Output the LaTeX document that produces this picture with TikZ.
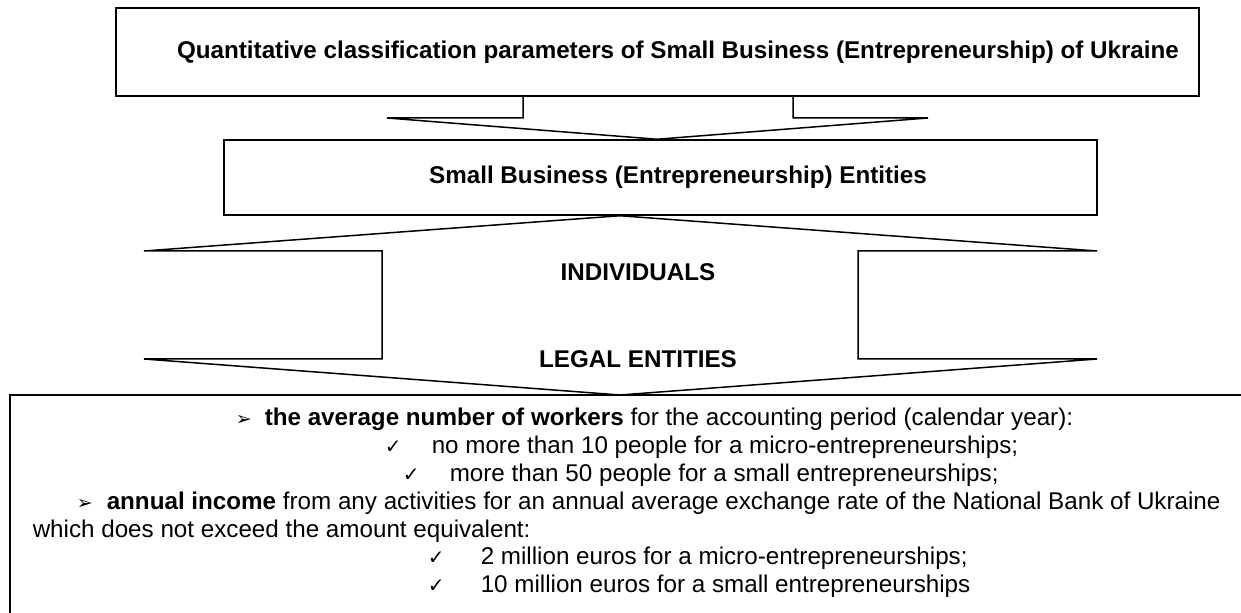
\documentclass[tikz,border=0pt]{standalone}
\usepackage{fontspec}
\setmainfont{Liberation Sans}
\newfontfamily\symbolfont{DejaVu Sans}
\newcommand\diagfont{\fontsize{12.1}{14}\selectfont}
\newcommand\checkitem[1]{\makebox[#1][l]{\symbolfont\fontsize{10}{12}\selectfont ✓}}
\newcommand\arrowitem[1]{\makebox[#1][l]{\symbolfont\fontsize{9.5}{12}\selectfont ➢}}

\begin{document}
\begin{tikzpicture}[x=0.5pt,y=-0.5pt,line width=0.75pt,
    box/.style={draw,inner sep=0pt,font=\diagfont\bfseries},
    heading/.style={inner sep=0pt,font=\diagfont\bfseries},
    bodyline/.style={inner sep=0pt,anchor=base west,font=\diagfont}]
  \useasboundingbox (0,0) rectangle (1241,613);

  \node[box,minimum width=541.5pt,minimum height=44pt] (params) at (657.5,52)
    {\hspace*{20.5pt}Quantitative classification parameters of Small Business (Entrepreneurship) of Ukraine};
  \node[box,minimum width=436.5pt,minimum height=37.5pt] (entities) at (660.5,177.5)
    {\hspace*{17.5pt}Small Business (Entrepreneurship) Entities};

  \draw (523,0 |- params.south) |- (387,118) -- (657,0 |- entities.north)
    -- (928,118) -| (793,0 |- params.south);

  \draw (620,0 |- entities.south) -- (144,251) -- (382,251) -- (382,359) -- (144,359)
    -- (620,395) -- (1097,359) -- (858,359) -- (858,251) -- (1097,251) -- cycle;

  \node[heading] (individuals) at (638,272) {INDIVIDUALS};
  \node[heading] (legal) at (638,359) {LEGAL ENTITIES};

  \draw (1241,395) -| (10,613);

  \node[bodyline] (workers) at (235,426)
    {\arrowitem{14.5pt}\textbf{the average number of workers} for the accounting period (calendar year):};
  \node[bodyline] (micro) at (384,453.8)
    {\checkitem{23.5pt}no more than 10 people for a micro-entrepreneurships;};
  \node[bodyline] (small) at (402,481.6)
    {\checkitem{23.5pt}more than 50 people for a small entrepreneurships;};
  \node[bodyline] (income) at (76,509.4)
    {\arrowitem{15pt}\textbf{annual income} from any activities for an annual average exchange rate of the National Bank of Ukraine};
  \node[bodyline] (amount) at (32,537.2) {which does not exceed the amount equivalent:};
  \node[bodyline] (twomln) at (427,565)
    {\checkitem{26.5pt}2 million euros for a micro-entrepreneurships;};
  \node[bodyline] (tenmln) at (427,592.8)
    {\checkitem{26.5pt}10 million euros for a small entrepreneurships};
\end{tikzpicture}
\end{document}
